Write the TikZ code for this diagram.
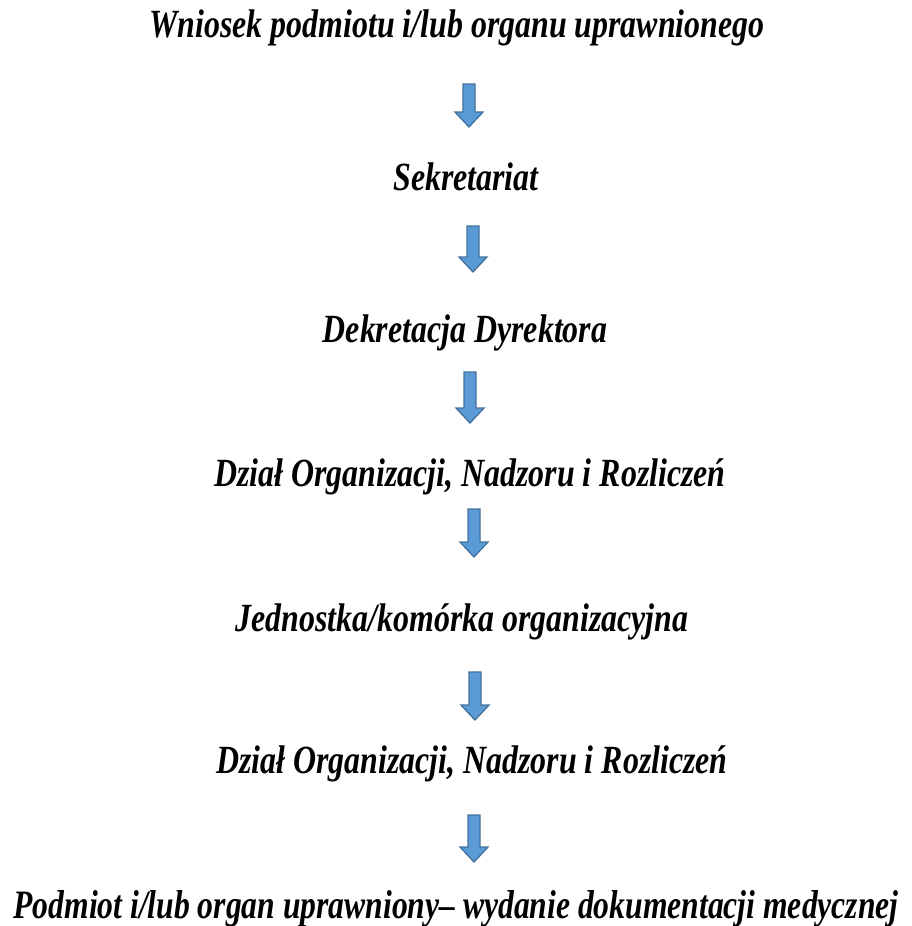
\documentclass[tikz,border=0pt]{standalone}
\usepackage{fontspec}
\setmainfont{Liberation Serif}
\usepackage{graphicx}
\definecolor{arrfill}{HTML}{5B9BD5}
\definecolor{arrline}{HTML}{41719C}
\newlength\refw
\newcommand\lfont{\fontsize{40}{48}\selectfont\bfseries\itshape}
\settowidth{\refw}{\lfont Wniosek podmiotu i/lub organu uprawnionego}
\pgfmathsetmacro\xsc{615/\refw}
\newcommand\ltext[1]{\scalebox{\xsc}[1]{\lfont #1}}
\tikzset{
  lbl/.style={anchor=base,inner sep=0pt},
  blk/.style={fill=arrfill,draw=arrline,line width=1.3pt,line join=miter}
}
\newcommand\barrow[4]{%
  \coordinate (#1) at (#2,#3);
  \draw[blk] (#2-6,#3) -- (#2+6,#3) -- (#2+6,#4-15) -- (#2+14,#4-15) -- (#2,#4) -- (#2-14,#4-15) -- (#2-6,#4-15) -- cycle;}
\begin{document}
\begin{tikzpicture}[x=1pt,y=-1pt]
\useasboundingbox (0,0) rectangle (912,926);
\node[lbl] (t1) at (457,37) {\ltext{Wniosek podmiotu i/lub organu uprawnionego}};
\node[lbl] (t2) at (466,190) {\ltext{Sekretariat}};
\node[lbl] (t3) at (465,342) {\ltext{Dekretacja Dyrektora}};
\node[lbl] (t4) at (470,486) {\ltext{Dział Organizacji, Nadzoru i Rozliczeń}};
\node[lbl] (t5) at (462,631) {\ltext{Jednostka/komórka organizacyjna}};
\node[lbl] (t6) at (472,773) {\ltext{Dział Organizacji, Nadzoru i Rozliczeń}};
\node[lbl] (t7) at (456,918) {\resizebox{885pt}{28pt}{\lfont Podmiot i/lub organ uprawniony– wydanie dokumentacji medycznej}};
\barrow{a1}{469}{84}{127}
\barrow{a2}{473}{226}{272}
\barrow{a3}{470}{372}{423}
\barrow{a4}{474}{509}{557}
\barrow{a5}{475}{672}{720}
\barrow{a6}{474}{815}{862}
\end{tikzpicture}
\end{document}
